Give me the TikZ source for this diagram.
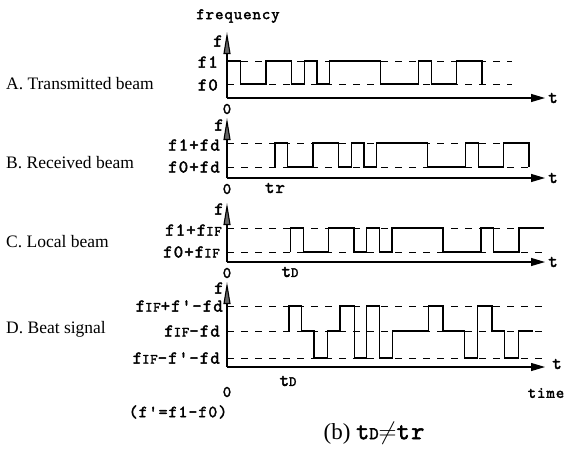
\documentclass[tikz,border=0pt]{standalone}
\usepackage{fontspec}
\setmainfont{Liberation Serif}
\setmonofont{lmmono10-regular.otf}[LetterSpace=6, AutoFakeBold=2.2]
\usepackage{tikz}
\usetikzlibrary{arrows.meta}
\newcommand{\lowcap}[1]{{\fontsize{14}{14}\selectfont #1}}
\tikzset{
    wave/.style={
        line width=1.3pt
    },
    guide/.style={
        line width=1pt,
        dash pattern=on 7pt off 7pt
    },
    faxis/.style={
        line width=1.1pt,
        -{Triangle[length=22pt,width=7pt,fill=black!60]}
    },
    taxis/.style={
        line width=1.1pt,
        -{Triangle[length=14pt,width=8pt]}
    }
}

\begin{document}
\begin{tikzpicture}[
        x=1pt, y=-1pt,
        lev/.style={font=\ttfamily\bfseries\fontsize{18}{20}\selectfont, anchor=east, inner sep=1pt},
        mono/.style={font=\ttfamily\bfseries\fontsize{16}{18}\selectfont, inner sep=1pt},
        big/.style={font=\ttfamily\bfseries\fontsize{18}{20}\selectfont, inner sep=1pt},
        beam/.style={font=\fontsize{17.5}{19}\selectfont, anchor=west, inner sep=0pt}
      ]
      \useasboundingbox (0,0) rectangle (564,448);

      % axes
      \coordinate (oA) at (227,98);  \coordinate (fA) at (227,32);  \coordinate (tA) at (545,98);
      \coordinate (oB) at (227,178); \coordinate (fB) at (227,118); \coordinate (tB) at (545,178);
      \coordinate (oC) at (227,262); \coordinate (fC) at (227,203); \coordinate (tC) at (545,262);
      \coordinate (oD) at (227,367); \coordinate (fD) at (227,282); \coordinate (tD) at (545,367);

      % dashed levels
      \draw[guide] (227,61) -- (512,61);
      \draw[guide] (227,84) -- (512,84);
      \draw[guide] (227,143) -- (530,143);
      \draw[guide] (227,167) -- (530,167);
      \draw[guide] (227,228) -- (545,228);
      \draw[guide] (227,252) -- (545,252);
      \draw[guide] (227,306) -- (545,306);
      \draw[guide] (227,331) -- (548,331);
      \draw[guide] (227,358) -- (545,358);

      % A. transmitted
      \draw[wave] (227,61) -| (240.7,84) -| (266.1,61) -| (291.5,84) -| (304.2,61)
        -| (316.9,84) -| (329.6,61) -| (380.4,84) -| (418.5,61) -| (431.2,84)
        -| (456.6,61) -| (482,84);
      % B. received
      \draw[wave] (275,167) -- (275,143) -| (287.7,167) -| (313.1,143) -| (338.5,167)
        -| (351.2,143) -| (363.9,167) -| (376.6,143) -| (427.4,167) -| (465.5,143)
        -| (478.2,167) -| (503.6,143) -| (529,167);
      % C. local
      \draw[wave] (290.5,252) -- (290.5,228) -| (303.2,252) -| (328.6,228) -| (354,252)
        -| (366.7,228) -| (379.4,252) -| (392.1,228) -| (442.9,252) -| (481,228)
        -| (493.7,252) -| (519.1,228) -- (544,228);
      % D. beat
      \draw[wave] (289,331) -- (289,306) -| (301.5,331) -| (314,358) -| (327.5,331)
        -| (340,306) -| (354.5,358) -| (366.7,306) -| (379.7,358) -| (392.7,331)
        -| (428.7,306) -| (443,331) -| (464.5,358) -| (477.5,306) -| (492,331)
        -| (504.3,358) -| (518.7,331) -- (533,331);

      \draw[faxis] (oA) -- (fA);
      \draw[taxis] (oA) -- (tA);
      \draw[faxis] (oB) -- (fB);
      \draw[taxis] (oB) -- (tB);
      \draw[faxis] (oC) -- (fC);
      \draw[taxis] (oC) -- (tC);
      \draw[faxis] (oD) -- (fD);
      \draw[taxis] (oD) -- (tD);

      % labels
      \node[mono] (freq) at (238,16) {frequency};
      \node[big] (fa) at (218,41) {f};
      \node[big] (fb) at (219,125) {f};
      \node[big] (fc) at (219,209) {f};
      \node[big] (fd) at (219,288) {f};

      \node[lev] (a1) at (219,62)  {f1};
      \node[lev] (a0) at (219,85)  {f0};
      \node[lev] (b1) at (221,145) {f1+fd};
      \node[lev] (b0) at (221,167) {f0+fd};
      \node[lev] (c1) at (223,230) {f1+f\lowcap{IF}};
      \node[lev] (c0) at (221,252) {f0+f\lowcap{IF}};
      \node[lev] (d2) at (224,306) {f\lowcap{IF}+f'-fd};
      \node[lev] (d1) at (221,331) {f\lowcap{IF}-fd};
      \node[lev] (d0) at (221,358) {f\lowcap{IF}-f'-fd};

      \node[mono] (zA) at (227,109) {0};
      \node[mono] (zB) at (227,189) {0};
      \node[mono] (zC) at (227,273) {0};
      \node[mono] (zD) at (227,392) {0};
      \node[big] (tr) at (275,188) {tr};
      \node[big] (tdC) at (290,272) {t\lowcap{D}};
      \node[big] (tdD) at (288,381) {t\lowcap{D}};

      \node[big] (ta) at (553,98)  {t};
      \node[big] (tb) at (553,178) {t};
      \node[big] (tc) at (553,262) {t};
      \node[big] (td) at (557,364) {t};
      \node[mono] (time) at (546,393) {time};
      \node[big, font=\ttfamily\bfseries\fontsize{17}{19}\selectfont] (fdef) at (178,412) {(f'=f1-f0)};

      \node[beam] (A) at (6,84)  {A. Transmitted beam};
      \node[beam] (B) at (6,163) {B. Received beam};
      \node[beam] (C) at (6,242) {C. Local beam};
      \node[beam] (D) at (6,329) {D. Beat signal};

      \node (cap) at (374,433) {\fontsize{23}{26}\selectfont (b)
        {\ttfamily\bfseries\fontsize{25}{26}\selectfont t{\fontsize{18}{18}\selectfont D}$\neq$tr}};
    \end{tikzpicture}
\end{document}
